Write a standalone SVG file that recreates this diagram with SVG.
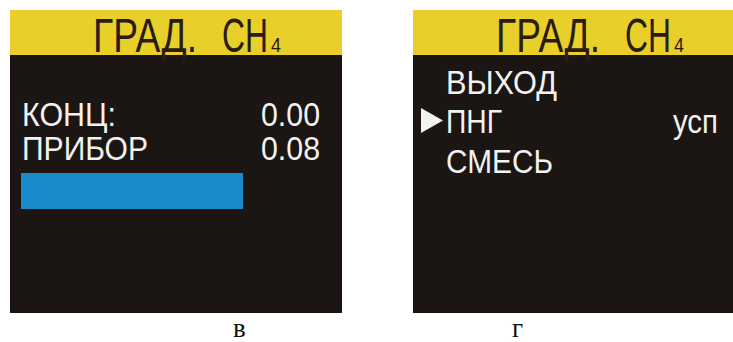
<svg xmlns="http://www.w3.org/2000/svg" width="733" height="342" viewBox="0 0 733 342">
<style>
.scr{fill:#1b1613}
.hdr{fill:#e9cf2a}
.ht{font-family:"Liberation Sans",Arial,sans-serif;fill:#2a1c10;font-size:49px}
.sub{font-size:20px}
.t{font-family:"Liberation Sans",Arial,sans-serif;fill:#f2f2f0;font-size:34px}
.lbl{font-family:"Liberation Serif","Times New Roman",serif;fill:#111;font-size:27px}
</style>
<rect width="733" height="342" fill="#ffffff"/>
<g id="screen-v">
<rect class="scr" x="10" y="10" width="332" height="303"/>
<rect class="hdr" x="10" y="10" width="332" height="45"/>
<text class="ht" y="52"><tspan x="93" textLength="104" lengthAdjust="spacingAndGlyphs">ГРАД.</tspan><tspan x="222" textLength="46" lengthAdjust="spacingAndGlyphs">CH</tspan><tspan class="sub" x="271" textLength="10" lengthAdjust="spacingAndGlyphs">4</tspan></text>
<text class="t" x="22" y="126" textLength="94" lengthAdjust="spacingAndGlyphs">КОНЦ:</text>
<text class="t" x="261" y="126" textLength="59" lengthAdjust="spacingAndGlyphs">0.00</text>
<text class="t" x="22" y="160" textLength="126" lengthAdjust="spacingAndGlyphs">ПРИБОР</text>
<text class="t" x="261" y="160" textLength="59" lengthAdjust="spacingAndGlyphs">0.08</text>
<rect x="21" y="173" width="222" height="36" fill="#1a8ccc"/>
</g>
<g id="screen-g">
<rect class="scr" x="413" y="10" width="320" height="303"/>
<rect class="hdr" x="413" y="10" width="320" height="45"/>
<text class="ht" y="52"><tspan x="496" textLength="104" lengthAdjust="spacingAndGlyphs">ГРАД.</tspan><tspan x="625" textLength="46" lengthAdjust="spacingAndGlyphs">CH</tspan><tspan class="sub" x="674" textLength="10" lengthAdjust="spacingAndGlyphs">4</tspan></text>
<text class="t" x="446" y="94" font-size="37" textLength="111" lengthAdjust="spacingAndGlyphs">ВЫХОД</text>
<polygon points="421,108 443,120.5 421,133" fill="#f2f2f0"/>
<text class="t" x="446" y="133" font-size="37" textLength="56" lengthAdjust="spacingAndGlyphs">ПНГ</text>
<text class="t" x="673" y="133" font-size="37" textLength="45" lengthAdjust="spacingAndGlyphs">усп</text>
<text class="t" x="446" y="173" font-size="37" textLength="107" lengthAdjust="spacingAndGlyphs">СМЕСЬ</text>
</g>
<g id="labels">
<text class="lbl" x="233" y="337">в</text>
<text class="lbl" x="512" y="337">г</text>
</g>
<g id="connectors"/>
</svg>
